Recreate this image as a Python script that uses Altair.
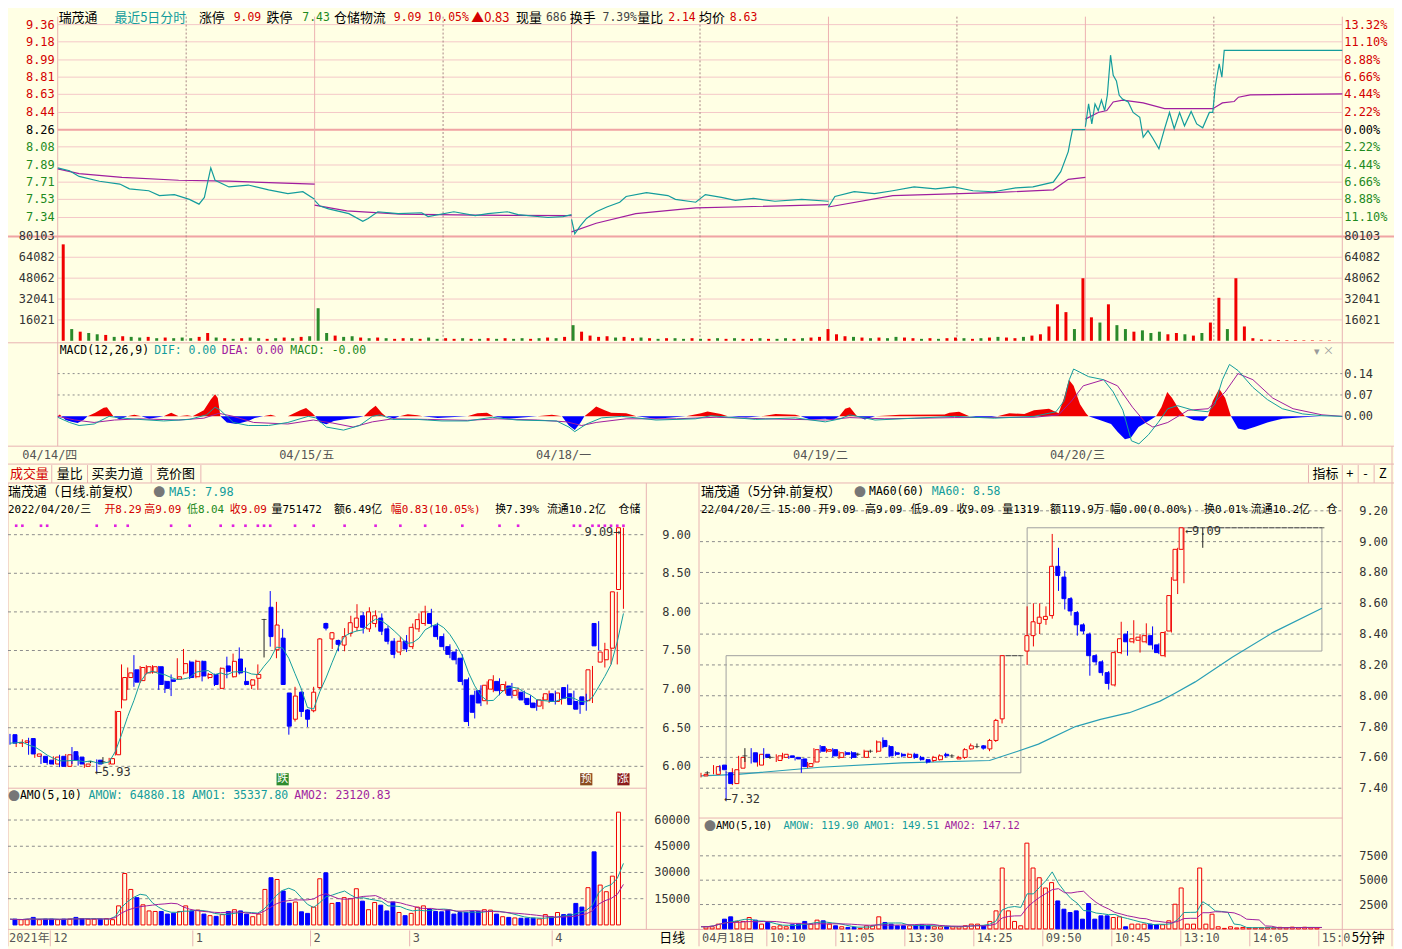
import altair as alt
import pandas as pd

# ============================ values ============================
prev_close = 8.26

# five-day minute chart: minute of the session (0-240) and price, one list per day
p_min = [
    [0, 11, 20, 39, 58, 67, 85, 95, 109, 123, 132, 137, 143, 147, 160, 178, 197, 215, 229, 240],
    [0, 5, 13, 32, 45, 50, 59, 78, 100, 106, 130, 150, 162, 180, 190, 218, 232, 240],
    [0, 3, 8, 14, 23, 33, 45, 51, 70, 90, 97, 116, 125, 140, 153, 170, 190, 215, 240],
    [0, 6, 24, 43, 60, 80, 100, 117, 135, 154, 175, 191, 210, 217, 224, 226, 228, 240],
    [0, 3, 6, 9, 12, 15, 18, 20.5, 23.5, 26, 29, 31.6, 34.7, 40, 44.6, 50.8, 54, 58.5, 63, 68.7,
     74, 78.6, 83, 88, 92.6, 98.8, 104, 109.6, 115.8, 119, 121.4, 125, 127.5, 129.7, 240],
]
p_val = [
    [7.86, 7.83, 7.77, 7.72, 7.69, 7.64, 7.62, 7.57, 7.58, 7.53, 7.48, 7.55, 7.86, 7.73, 7.66, 7.68, 7.63, 7.59, 7.61, 7.53],
    [7.52, 7.46, 7.43, 7.38, 7.30, 7.33, 7.40, 7.38, 7.39, 7.35, 7.40, 7.36, 7.38, 7.40, 7.37, 7.34, 7.35, 7.37],
    [7.32, 7.17, 7.25, 7.33, 7.40, 7.45, 7.50, 7.56, 7.60, 7.57, 7.53, 7.50, 7.58, 7.55, 7.52, 7.54, 7.51, 7.53, 7.51],
    [7.45, 7.56, 7.61, 7.59, 7.62, 7.66, 7.64, 7.66, 7.62, 7.61, 7.65, 7.66, 7.71, 7.82, 8.03, 8.15, 8.26, 8.26],
    [8.29, 8.53, 8.32, 8.53, 8.46, 8.57, 8.46, 8.62, 9.04, 8.83, 8.77, 8.62, 8.58, 8.55, 8.44, 8.39, 8.18, 8.25, 8.17, 8.06,
     8.27, 8.44, 8.27, 8.44, 8.30, 8.45, 8.32, 8.28, 8.44, 8.44, 8.72, 8.95, 8.81, 9.09, 9.09],
]
# average-price line
a_min = [
    [0, 20, 60, 113, 160, 240],
    [0, 30, 80, 150, 240],
    [0, 23, 60, 116, 240],
    [0, 60, 154, 210, 224, 240],
    [0, 12, 20, 26, 35, 54, 74, 104, 119, 128, 139, 143, 154, 240],
]
a_val = [
    [7.85, 7.80, 7.76, 7.73, 7.72, 7.69],
    [7.47, 7.41, 7.375, 7.365, 7.36],
    [7.19, 7.28, 7.38, 7.44, 7.475],
    [7.45, 7.57, 7.60, 7.63, 7.74, 7.76],
    [8.37, 8.44, 8.46, 8.55, 8.57, 8.54, 8.48, 8.48, 8.48, 8.54, 8.555, 8.60, 8.625, 8.635],
]
# minute volume, sampled every 8 minutes (30 per day), with up(r)/down(g) flag
vol = [
    [74000, 9000, 7000, 6000, 5000, 4500, 3000, 3500, 3000, 2500, 3000, 2000, 2500, 2000, 2500,
     2000, 3000, 6000, 2500, 2000, 1500, 2000, 2500, 2000, 1500, 2000, 2500, 2000, 3000, 3500],
    [25000, 6000, 4000, 3000, 3500, 2500, 2000, 2500, 2000, 1500, 2000, 2000, 1500, 2500, 1500,
     2000, 1500, 2000, 1500, 1500, 2000, 1500, 2000, 1500, 2000, 1500, 2000, 2500, 2000, 3000],
    [12000, 7000, 4000, 3000, 3500, 2500, 3000, 2000, 2500, 2000, 1500, 2000, 2000, 1500, 2000,
     1500, 1500, 2000, 1500, 2000, 1500, 1500, 2000, 1500, 1500, 2000, 1500, 2000, 2500, 3000],
    [9000, 5000, 3500, 3000, 2500, 2000, 2500, 2000, 3000, 2500, 2000, 1500, 2000, 1500, 2000,
     2500, 2000, 1500, 2000, 2500, 3000, 2500, 2000, 3000, 4000, 5000, 11000, 28000, 22000, 9000],
    [48000, 18000, 14000, 28000, 12000, 9000, 7000, 8000, 6000, 7000, 5000, 6000, 5000, 4000, 6000,
     14000, 33000, 9000, 48000, 11000, 2000, 1000, 800, 600, 500, 500, 400, 400, 300, 300],
]
vol_dir = [
    "rgrggrgrgg" "rgrgggrrgr" "grggrgrgrg",
    "ggrggrgrgr" "rgrggrrgrg" "rgrggrgrgr",
    "grrrrgrrgr" "grggrgrgrg" "rrgrggrgrr",
    "rrrgrgrggr" "rgrgrrgrgr" "grrgrrrrrg",
    "rrgrggrggg" "rrgrgrrgrr" "rrrrrrrrrr",
]
# MACD over the 1200 minutes: (minute, value)
macd_hist = [
    (0, 0), (1.9, 0.006), (3.7, 0), (7.4, -0.012), (13, -0.018), (18.6, -0.022), (24, -0.012), (28, 0),
    (35, 0.012), (43, 0.028), (46, 0.03), (50, 0.01), (52, 0), (58, -0.01), (65, 0), (71.5, 0.005), (78, 0),
    (85.5, -0.008), (99, 0), (106, 0.012), (113, 0), (121, 0.004), (126, 0), (136.5, 0.02), (143, 0.055),
    (147, 0.072), (149.5, 0.06), (152, 0), (158, -0.02), (167, -0.025), (178, -0.015), (184, -0.005), (192, 0),
    (199, 0.005), (204, 0), (215, 0), (226.6, 0.02), (232, 0.027), (238, 0.01), (240.6, 0), (245, -0.02),
    (251, -0.026), (258, -0.015), (266.6, -0.01), (280.5, -0.004), (286, 0), (291.6, 0.02), (297, 0.035),
    (303, 0.01), (306.5, 0), (314, -0.007), (319.5, 0), (327, 0.007), (336, 0.004), (341, 0), (355, -0.005),
    (382.7, 0), (392, 0.01), (401, 0.012), (407, 0), (420, -0.008), (448, 0), (461.6, 0.005), (471, 0),
    (477.5, -0.03), (483, -0.045), (488.5, -0.02), (492, 0), (499, 0.02), (503, 0.032), (511, 0.02), (517, 0.012),
    (531, 0.01), (540.6, 0), (559, -0.008), (587, 0), (601, 0.01), (607, 0.016), (619.5, 0.008), (626, 0),
    (643, -0.004), (657, 0), (670.6, 0.008), (689, 0.005), (694, 0), (703, -0.01), (717, -0.008), (724.5, -0.012),
    (730, 0), (735.6, 0.025), (740, 0.03), (746.7, 0), (754, -0.01), (763.5, 0), (786.7, 0.005), (828.5, 0.006),
    (833, 0.012), (842, 0.015), (851.7, 0), (865.6, -0.005), (877.7, 0), (889, 0.01), (903, 0.008), (912, 0.02),
    (926, 0.025), (935, 0.01), (940, 0.06), (944.6, 0.12), (949, 0.1), (955, 0.04), (960.5, 0.01), (963, 0),
    (972, -0.01), (984, -0.025), (990, -0.05), (997, -0.075), (1002.5, -0.07), (1009.6, -0.035), (1019, -0.015),
    (1026, 0), (1031, 0.03), (1036.5, 0.08), (1041, 0.06), (1048, 0.02), (1053, 0), (1061, -0.012), (1070, -0.015),
    (1074.6, 0), (1079, 0.05), (1085, 0.09), (1090.6, 0.06), (1096, 0), (1102.6, -0.04), (1109, -0.045),
    (1118, -0.035), (1130, -0.02), (1144, -0.008), (1163, -0.003), (1181, 0), (1200, 0),
]
macd_dif = [
    (0, -0.003), (11, -0.02), (20, -0.03), (34, -0.025), (48, 0.0), (58, -0.005), (76, -0.01), (99, -0.015),
    (123, -0.01), (139, 0.005), (147, 0.03), (152, 0.02), (164, -0.02), (178, -0.03), (197, -0.03), (215, -0.02),
    (234, 0.0), (241, -0.005), (251, -0.035), (267, -0.045), (282, -0.03), (294, 0.0), (301, 0.005), (313, -0.01),
    (336, -0.01), (359, -0.015), (383, -0.015), (406, -0.003), (429, -0.012), (466, -0.015), (477.5, -0.035),
    (483, -0.05), (494, -0.025), (508, -0.005), (527, 0.0), (559, -0.012), (596, -0.008), (610, 0.002),
    (652, -0.01), (689, -0.005), (717, -0.018), (731, -0.008), (740, 0.005), (763.5, -0.012), (800.6, -0.006),
    (838, 0.0), (875, -0.006), (912, 0.0), (932.5, 0.015), (940, 0.05), (945, 0.12), (949, 0.155), (963, 0.13),
    (977, 0.12), (986, 0.08), (995, 0.02), (1003, -0.08), (1010, -0.09), (1019, -0.06), (1028, -0.02),
    (1037, 0.025), (1046, 0.035), (1061, 0.02), (1074.6, 0.015), (1081, 0.04), (1088, 0.12), (1094.6, 0.17),
    (1102.6, 0.15), (1116.5, 0.095), (1130, 0.055), (1144, 0.025), (1163, 0.008), (1181, 0.002), (1200, 0.0),
]
macd_dea = [
    (0, 0.0), (16, -0.012), (34, -0.02), (53, -0.012), (76, -0.008), (113, -0.012), (136.5, -0.006),
    (150.5, 0.01), (164, 0.0), (183, -0.02), (215, -0.025), (238.7, -0.012), (257, -0.022), (276, -0.035),
    (294, -0.018), (313, -0.008), (345.5, -0.01), (382.7, -0.013), (410.5, -0.008), (448, -0.012),
    (475.5, -0.018), (489.5, -0.03), (503, -0.02), (531, -0.008), (578, -0.008), (615, -0.003), (661, -0.008),
    (717, -0.012), (740, -0.004), (772.7, -0.008), (838, -0.004), (912, -0.003), (935, 0.005), (947, 0.05),
    (958, 0.1), (977, 0.12), (990, 0.1), (1004, 0.03), (1016, -0.02), (1023, -0.035), (1037, -0.02),
    (1056, 0.02), (1074.6, 0.025), (1090.6, 0.08), (1102.6, 0.14), (1116.5, 0.12), (1135, 0.06),
    (1154, 0.025), (1181, 0.005), (1200, 0.0),
]
price_ticks = [9.36, 9.18, 8.99, 8.81, 8.63, 8.44, 8.26, 8.08, 7.89, 7.71, 7.53, 7.34]
price_lbl = ["9.36", "9.18", "8.99", "8.81", "8.63", "8.44", "8.26", "8.08", "7.89", "7.71", "7.53", "7.34"]
pct_lbl = ["13.32%", "11.10%", "8.88%", "6.66%", "4.44%", "2.22%", "0.00%", "2.22%", "4.44%", "6.66%", "8.88%", "11.10%"]
vol_ticks = [80103, 64082, 48062, 32041, 16021]
macd_ticks = [0.14, 0.07, 0.00]
macd_lbl = ["0.14", "0.07", "0.00"]
day_lbl = ["04/14/四", "04/15/五", "04/18/一", "04/19/二", "04/20/三"]

# daily candles (2021-11 .. 2022-04-20), 100 sessions
d_open = [6.41, 6.30, 6.31, 6.36, 6.13, 6.13, 6.08, 6.03, 6.13, 6.00, 6.19, 6.12, 6.00, 6.06, 6.08, 6.06, 6.03, 6.15, 6.86, 7.15,
          7.25, 7.11, 7.21, 7.22, 7.29, 7.10, 7.12, 7.13, 7.21, 7.35, 7.16, 7.36, 7.15, 7.19, 7.01, 7.30, 7.16, 7.39, 7.10, 7.05,
          7.14, 7.90, 8.06, 7.51, 7.66, 6.95, 6.61, 6.96, 6.73, 6.72, 7.02, 7.85, 7.65, 7.63, 7.57, 7.72, 7.80, 7.95, 7.78, 7.85,
          7.92, 7.78, 7.62, 7.48, 7.62, 7.55, 7.78, 7.85, 7.98, 7.82, 7.68, 7.55, 7.48, 7.40, 7.12, 6.92, 6.98, 6.85, 7.00, 7.10,
          6.98, 7.04, 6.92, 6.96, 6.88, 6.82, 6.78, 6.86, 6.94, 6.84, 7.02, 6.94, 6.84, 6.90, 6.85, 7.85, 7.35, 7.38, 7.53, 8.29]
d_high = [6.42, 6.35, 6.35, 6.37, 6.17, 6.14, 6.09, 6.13, 6.15, 6.16, 6.25, 6.14, 6.04, 6.07, 6.09, 6.12, 6.11, 6.72, 7.32, 7.28,
          7.44, 7.30, 7.31, 7.31, 7.30, 7.11, 7.19, 7.40, 7.52, 7.37, 7.38, 7.37, 7.21, 7.20, 7.28, 7.42, 7.46, 7.54, 7.28, 7.13,
          7.32, 7.91, 8.27, 8.13, 7.78, 6.95, 7.03, 6.97, 6.74, 7.03, 7.66, 7.86, 7.74, 7.64, 7.79, 7.95, 8.10, 8.00, 8.06, 8.02,
          7.98, 7.82, 7.66, 7.68, 7.70, 7.85, 7.98, 8.08, 8.04, 7.86, 7.72, 7.58, 7.52, 7.45, 7.15, 6.98, 7.05, 7.10, 7.18, 7.14,
          7.10, 7.08, 7.02, 6.98, 6.92, 6.86, 6.90, 6.98, 6.98, 7.00, 7.06, 6.98, 6.90, 6.94, 7.30, 7.88, 7.60, 7.56, 8.26, 9.09]
d_low = [6.28, 6.25, 6.25, 6.15, 6.11, 6.03, 6.02, 6.02, 5.99, 5.99, 6.03, 6.01, 5.98, 6.04, 5.93, 6.03, 6.02, 6.14, 6.75, 6.99,
         7.03, 7.08, 7.19, 7.20, 6.99, 6.95, 6.91, 7.12, 7.19, 7.13, 7.14, 7.10, 7.13, 7.04, 7.00, 7.14, 7.15, 7.19, 7.05, 7.00,
         6.99, 7.41, 7.55, 7.40, 7.06, 6.41, 6.58, 6.64, 6.51, 6.70, 7.00, 7.76, 7.52, 7.49, 7.49, 7.68, 7.75, 7.72, 7.74, 7.80,
         7.70, 7.58, 7.40, 7.44, 7.48, 7.52, 7.74, 7.82, 7.80, 7.64, 7.50, 7.40, 7.32, 7.05, 6.52, 6.62, 6.78, 6.80, 6.96, 6.92,
         6.94, 6.88, 6.88, 6.82, 6.76, 6.72, 6.74, 6.82, 6.80, 6.80, 6.84, 6.74, 6.68, 6.72, 6.82, 7.50, 7.28, 7.32, 7.32, 8.04]
d_close = [6.30, 6.31, 6.33, 6.16, 6.16, 6.05, 6.03, 6.12, 6.00, 6.15, 6.08, 6.03, 6.03, 6.06, 6.03, 6.06, 6.10, 6.71, 7.15, 7.21,
           7.09, 7.28, 7.29, 7.29, 7.06, 7.01, 7.10, 7.16, 7.33, 7.15, 7.36, 7.17, 7.19, 7.06, 7.27, 7.23, 7.36, 7.21, 7.06, 7.12,
           7.19, 7.90, 7.68, 7.83, 7.06, 6.52, 6.91, 6.71, 6.61, 6.96, 7.65, 7.79, 7.73, 7.58, 7.68, 7.86, 7.92, 7.80, 8.00, 7.95,
           7.75, 7.62, 7.45, 7.62, 7.52, 7.80, 7.90, 8.00, 7.85, 7.68, 7.55, 7.45, 7.38, 7.10, 6.58, 6.70, 6.82, 7.05, 7.12, 6.98,
           7.06, 6.92, 6.98, 6.86, 6.80, 6.76, 6.86, 6.94, 6.84, 6.95, 6.88, 6.80, 6.74, 6.80, 7.25, 7.56, 7.48, 7.51, 8.26, 9.09]
d_amo = [3300, 3000, 3000, 4300, 3000, 3300, 3300, 3000, 3300, 3300, 4300, 3600, 3300, 3300, 3300, 3600, 3000, 10900, 29400, 20300,
         15600, 11500, 8000, 7700, 7700, 6200, 6700, 7700, 10900, 8000, 8500, 6200, 5300, 4900, 5900, 7700, 8700, 8000, 6200, 4700,
         6200, 20300, 27000, 26000, 19400, 12400, 13100, 7500, 6600, 10200, 26400, 29800, 12300, 12800, 15600, 15000, 20700, 13600, 8700, 12800,
         11300, 8000, 13100, 7100, 5300, 6600, 10200, 10900, 9100, 7700, 7500, 8500, 6200, 7100, 7100, 7700, 7700, 8700, 8500, 6200,
         4700, 4300, 4000, 3800, 3800, 3800, 3400, 5900, 4700, 7100, 5900, 6200, 12300, 10200, 21300, 41800, 22800, 19000, 27900, 64500]
d_ticks = [9.0, 8.5, 8.0, 7.5, 7.0, 6.5, 6.0]
d_tick_lbl = ["9.00", "8.50", "8.00", "7.50", "7.00", "6.50", "6.00"]
d_amo_ticks = [60000, 45000, 30000, 15000]
month_idx = [6.5, 29.5, 48.5, 64.5, 87.5]
month_lbl = ["12", "1", "2", "3", "4"]
event_idx = [1, 2, 5, 6, 14, 17, 19, 26, 29, 34, 36, 38, 40, 41, 42, 46, 49, 54, 59, 63, 67, 73, 79, 82, 91, 92, 94, 95, 96, 97, 98, 99]
sig_idx = [44, 93, 99]
sig_txt = ["跌", "预", "涨"]

# 5-minute candles (04/18 14:45 .. 04/20 15:00), 100 bars
f_open = [7.48, 7.50, 7.49, 7.55, 7.50, 7.43, 7.53, 7.61, 7.63, 7.55, 7.62, 7.60, 7.58, 7.60, 7.61, 7.60, 7.59, 7.54, 7.57, 7.67,
          7.64, 7.65, 7.60, 7.63, 7.63, 7.62, 7.60, 7.64, 7.64, 7.71, 7.67, 7.63, 7.62, 7.60, 7.62, 7.60, 7.585, 7.58, 7.585, 7.62,
          7.61, 7.59, 7.60, 7.655, 7.67, 7.675, 7.655, 7.71, 7.85, 8.26, 8.26, 8.26, 8.29, 8.39, 8.47, 8.495, 8.52, 8.84, 8.77, 8.63,
          8.54, 8.46, 8.40, 8.26, 8.22, 8.15, 8.07, 8.28, 8.40, 8.35, 8.36, 8.35, 8.39, 8.33, 8.26, 8.42, 8.75, 8.95, 9.09, 9.09,
          9.09, 9.09, 9.09, 9.09, 9.09, 9.09, 9.09, 9.09, 9.09, 9.09, 9.09, 9.09, 9.09, 9.09, 9.09, 9.09, 9.09, 9.09, 9.09, 9.09]
f_high = [7.50, 7.51, 7.55, 7.55, 7.51, 7.53, 7.61, 7.66, 7.66, 7.63, 7.66, 7.61, 7.62, 7.63, 7.61, 7.60, 7.59, 7.57, 7.66, 7.68,
          7.66, 7.66, 7.64, 7.64, 7.64, 7.63, 7.65, 7.65, 7.71, 7.73, 7.68, 7.64, 7.63, 7.63, 7.63, 7.61, 7.59, 7.61, 7.62, 7.63,
          7.62, 7.61, 7.66, 7.69, 7.69, 7.68, 7.72, 7.85, 8.26, 8.26, 8.26, 8.26, 8.58, 8.60, 8.60, 8.58, 9.05, 8.96, 8.81, 8.64,
          8.55, 8.47, 8.41, 8.27, 8.23, 8.16, 8.29, 8.48, 8.42, 8.49, 8.40, 8.47, 8.45, 8.34, 8.42, 8.77, 8.96, 9.09, 9.09, 9.09,
          9.09, 9.09, 9.09, 9.09, 9.09, 9.09, 9.09, 9.09, 9.09, 9.09, 9.09, 9.09, 9.09, 9.09, 9.09, 9.09, 9.09, 9.09, 9.09, 9.09]
f_low = [7.47, 7.49, 7.49, 7.51, 7.32, 7.42, 7.51, 7.57, 7.56, 7.54, 7.59, 7.59, 7.57, 7.59, 7.59, 7.58, 7.50, 7.53, 7.56, 7.63,
         7.63, 7.60, 7.59, 7.61, 7.59, 7.61, 7.60, 7.63, 7.63, 7.66, 7.60, 7.61, 7.60, 7.60, 7.59, 7.58, 7.56, 7.57, 7.58, 7.60,
         7.60, 7.59, 7.59, 7.65, 7.66, 7.65, 7.64, 7.70, 7.82, 8.26, 8.26, 8.26, 8.20, 8.32, 8.40, 8.46, 8.50, 8.68, 8.56, 8.52,
         8.39, 8.40, 8.13, 8.20, 8.13, 8.04, 8.06, 8.27, 8.26, 8.34, 8.28, 8.34, 8.30, 8.27, 8.25, 8.41, 8.66, 8.73, 9.09, 9.09,
         8.96, 9.09, 9.09, 9.09, 9.09, 9.09, 9.09, 9.09, 9.09, 9.09, 9.09, 9.09, 9.09, 9.09, 9.09, 9.09, 9.09, 9.09, 9.09, 9.09]
f_close = [7.49, 7.50, 7.54, 7.52, 7.43, 7.52, 7.60, 7.61, 7.57, 7.62, 7.60, 7.60, 7.61, 7.62, 7.60, 7.59, 7.54, 7.56, 7.65, 7.64,
           7.65, 7.61, 7.63, 7.62, 7.60, 7.62, 7.64, 7.64, 7.70, 7.67, 7.61, 7.62, 7.61, 7.62, 7.60, 7.585, 7.57, 7.60, 7.61, 7.61,
           7.61, 7.60, 7.65, 7.675, 7.67, 7.66, 7.71, 7.84, 8.26, 8.26, 8.26, 8.26, 8.39, 8.48, 8.51, 8.515, 8.84, 8.78, 8.63, 8.55,
           8.46, 8.42, 8.26, 8.22, 8.15, 8.08, 8.28, 8.37, 8.35, 8.37, 8.38, 8.39, 8.33, 8.28, 8.41, 8.65, 8.95, 9.09, 9.09, 9.09,
           9.09, 9.09, 9.09, 9.09, 9.09, 9.09, 9.09, 9.09, 9.09, 9.09, 9.09, 9.09, 9.09, 9.09, 9.09, 9.09, 9.09, 9.09, 9.09, 9.09]
f_amo = [221, 221, 490, 1000, 1240, 765, 765, 1170, 900, 490, 660, 220, 320, 220, 425, 490, 765, 490, 900, 830,
         490, 320, 220, 150, 150, 50, 320, 320, 1240, 660, 490, 320, 320, 320, 320, 425, 320, 220, 220, 220,
         220, 220, 320, 490, 490, 320, 765, 1850, 6250, 1850, 765, 320, 8800, 6250, 5250, 4200, 4750, 2870, 2020, 1680,
         1850, 1000, 2600, 1000, 1340, 1340, 1170, 1240, 220, 490, 490, 490, 490, 425, 425, 830, 2530, 4200, 490, 490,
         6250, 490, 1510, 220, 50, 220, 100, 150, 100, 100, 120, 150, 110, 160, 130, 180, 140, 170, 140, 120]
ma60_i = [0, 5.8, 19, 32, 46, 50.5, 53.8, 59.7, 63.7, 68.3, 73.2, 75.5, 78.8, 84.7, 91.3, 99]
ma60_v = [7.48, 7.49, 7.536, 7.564, 7.58, 7.64, 7.686, 7.80, 7.847, 7.89, 7.965, 8.015, 8.09, 8.25, 8.413, 8.568]
box_i0 = [4, 52]
box_i1 = [51, 99]
box_lo = [7.50, 8.29]
box_hi = [8.26, 9.09]
f_ticks = [9.2, 9.0, 8.8, 8.6, 8.4, 8.2, 8.0, 7.8, 7.6, 7.4]
f_tick_lbl = ["9.20", "9.00", "8.80", "8.60", "8.40", "8.20", "8.00", "7.80", "7.60", "7.40"]
f_amo_ticks = [7500, 5000, 2500]
time_idx = [10.5, 21.5, 32.5, 43.5, 54.5, 65.5, 76.5, 87.5, 98.5]
time_lbl = ["10:10", "11:05", "13:30", "14:25", "09:50", "10:45", "13:10", "14:05", "15:0"]

# ============================ styling / layout ============================
OFF = 8
W, H = 1394, 941
BG = "#FFFFE4"
PINK = "#E8B2B2"
GRIDP = "#F4C8C8"
RED = "#F00000"
TRED = "#D40000"
BLUE = "#0000FF"
GREEN = "#1E8A1E"
TEAL = "#139C9C"
MAG = "#A01E9E"
DASH = "#8C8C8C"
CJK = "Noto Sans CJK SC"
MONO = "DejaVu Sans Mono"
MIX = "DejaVu Sans Mono, Noto Sans CJK SC"


def P(v):
    return max(v - OFF, 0)


def S(dom, rng):
    return alt.Scale(domain=dom, range=rng, nice=False, zero=False)


def qx(f, s):
    return alt.X(f, type="quantitative", scale=s, axis=None)


def qy(f, s):
    return alt.Y(f, type="quantitative", scale=s, axis=None)


TX = S([0, 1200], [P(58), P(1350)])
PY = S([7.34, 9.36], [P(216), P(22)])
VY = S([0, 80103], [P(340), P(235)])
MY = S([0, 0.14], [P(416), P(373)])
DX = S([0, 99], [2, 619])
DY = S([6.0, 9.0], [P(768), P(535)])
DA = S([0, 60000], [P(927.5), P(822)])
FX = S([0, 99], [P(705), P(1329.5)])
FY = S([7.4, 9.2], [P(790), P(511)])
FA = S([0, 7500], [P(931.5), P(858)])

ONE = pd.DataFrame({"k": [0]})
L = []


def rule(x1, y1, x2, y2, color=PINK, w=1, dash=None):
    kw = {"color": color, "strokeWidth": w}
    if dash:
        kw["strokeDash"] = dash
    return alt.Chart(ONE).mark_rule(**kw).encode(
        x=alt.value(P(x1)), y=alt.value(P(y1)), x2=alt.value(P(x2)), y2=alt.value(P(y2)))


def label(s, x, y, color="#000000", size=13, font=CJK, align="left"):
    return alt.Chart(ONE).mark_text(text=s, align=align, baseline="middle", fontSize=size,
                                    font=font, color=color).encode(x=alt.value(P(x)), y=alt.value(P(y)))


def is_ascii(s):
    return all(ord(ch) < 128 for ch in s)


# ---------------- data frames ----------------
rows = []
for d in range(5):
    for m, v in zip(p_min[d], p_val[d]):
        rows.append({"day": d, "t": d * 240 + m, "p": v})
price_df = pd.DataFrame(rows)
rows = []
for d in range(5):
    for m, v in zip(a_min[d], a_val[d]):
        rows.append({"day": d, "t": d * 240 + m, "p": v})
avg_df = pd.DataFrame(rows)
rows = []
for d in range(5):
    for k, v in enumerate(vol[d]):
        rows.append({"t": d * 240 + 8 * k + 0.5, "v": v, "up": vol_dir[d][k] == "r", "z": 0})
vol_df = pd.DataFrame(rows)
hist_df = pd.DataFrame({"t": [a for a, b in macd_hist], "v": [b for a, b in macd_hist], "z": 0.0})
dif_df = pd.DataFrame({"t": [a for a, b in macd_dif], "v": [b for a, b in macd_dif]})
dea_df = pd.DataFrame({"t": [a for a, b in macd_dea], "v": [b for a, b in macd_dea]})
pt_df = pd.DataFrame({"v": price_ticks, "s": price_lbl, "q": pct_lbl})
daily = pd.DataFrame({"i": list(range(100)), "o": d_open, "h": d_high, "l": d_low, "c": d_close,
                      "amo": d_amo, "z": 0})
five = pd.DataFrame({"i": list(range(100)), "o": f_open, "h": f_high, "l": f_low, "c": f_close,
                     "amo": f_amo, "z": 0})

# ---------------- frames ----------------
L += [
    rule(58, 14, 58, 446), rule(1350, 14, 1350, 446),
    rule(0, 342, 1402, 342), rule(0, 446, 1402, 446), rule(0, 464, 1402, 464), rule(0, 483, 1402, 483),
    rule(52, 465, 52, 483), rule(88, 465, 88, 483), rule(152, 465, 152, 483), rule(202, 465, 202, 483),
    rule(1316, 465, 1316, 483), rule(1350, 465, 1350, 483), rule(1366, 465, 1366, 483), rule(1382, 465, 1382, 483),
    rule(2, 483, 2, 949), rule(650, 483, 650, 932), rule(703, 483, 703, 949), rule(1350, 483, 1350, 949),
    rule(1400, 446, 1400, 949), rule(2, 790, 650, 790), rule(703, 820, 1350, 820), rule(2, 932, 1402, 932),
]

# ---------------- top: grids ----------------
L.append(alt.Chart(pt_df).mark_rule(color=GRIDP, strokeWidth=1).encode(
    x=alt.value(P(58)), x2=alt.value(P(1350)), y=qy("v", PY)))
L.append(alt.Chart(pd.DataFrame({"v": [prev_close]})).mark_rule(color="#F0A4A4", strokeWidth=2).encode(
    x=alt.value(P(58)), x2=alt.value(P(1350)), y=qy("v", PY)))
L.append(alt.Chart(pd.DataFrame({"v": vol_ticks})).mark_rule(color=GRIDP, strokeWidth=1).encode(
    x=alt.value(P(58)), x2=alt.value(P(1350)), y=qy("v", VY)))
L.append(alt.Chart(pd.DataFrame({"v": [vol_ticks[0]]})).mark_rule(color="#F0A4A4", strokeWidth=2).encode(
    x=alt.value(P(0)), x2=alt.value(P(1402)), y=qy("v", VY)))
L.append(alt.Chart(pd.DataFrame({"t": [240, 480, 720, 960]})).mark_rule(color="#EDB0B0", strokeWidth=1).encode(
    x=qx("t", TX), y=alt.value(P(14)), y2=alt.value(P(340))))
L.append(alt.Chart(pd.DataFrame({"t": [120, 360, 600, 840, 1080]})).mark_rule(
    color="#A88484", strokeWidth=1, strokeDash=[2, 2]).encode(
    x=qx("t", TX), y=alt.value(P(14)), y2=alt.value(P(340))))
L.append(alt.Chart(pd.DataFrame({"v": macd_ticks[:2]})).mark_rule(
    color=DASH, strokeWidth=1, strokeDash=[2, 3]).encode(
    x=alt.value(P(58)), x2=alt.value(P(1350)), y=qy("v", MY)))

col_expr = ("datum.v > %.3f ? '%s' : (datum.v < %.3f ? '%s' : '#000000')"
            % (prev_close + 0.005, TRED, prev_close - 0.005, GREEN))
L.append(alt.Chart(pt_df).transform_calculate(col=col_expr).mark_text(
    align="right", baseline="middle", font=MONO, fontSize=12).encode(
    x=alt.value(P(55)), y=qy("v", PY), text="s:N", color=alt.Color("col:N", scale=None)))
L.append(alt.Chart(pt_df).transform_calculate(col=col_expr).mark_text(
    align="left", baseline="middle", font=MONO, fontSize=12).encode(
    x=alt.value(P(1352)), y=qy("v", PY), text="q:N", color=alt.Color("col:N", scale=None)))
vt_df = pd.DataFrame({"v": vol_ticks, "s": [str(v) for v in vol_ticks]})
L.append(alt.Chart(vt_df).mark_text(align="right", baseline="middle", font=MONO, fontSize=12, color="#333333").encode(
    x=alt.value(P(55)), y=qy("v", VY), text="s:N"))
L.append(alt.Chart(vt_df).mark_text(align="left", baseline="middle", font=MONO, fontSize=12, color="#333333").encode(
    x=alt.value(P(1352)), y=qy("v", VY), text="s:N"))
L.append(alt.Chart(pd.DataFrame({"v": macd_ticks, "s": macd_lbl})).mark_text(
    align="left", baseline="middle", font=MONO, fontSize=12, color="#333333").encode(
    x=alt.value(P(1352)), y=qy("v", MY), text="s:N"))
L.append(alt.Chart(pd.DataFrame({"t": [0, 240, 480, 720, 960], "s": day_lbl})).mark_text(
    align="center", baseline="middle", font=MIX, fontSize=12, color="#555555", dx=-8).encode(
    x=qx("t", TX), y=alt.value(P(455)), text="s:N"))

# ---------------- top: series ----------------
L.append(alt.Chart(avg_df).mark_line(color=MAG, strokeWidth=1.2).encode(
    x=qx("t", TX), y=qy("p", PY), detail="day:N"))
L.append(alt.Chart(price_df).mark_line(color=TEAL, strokeWidth=1.2).encode(
    x=qx("t", TX), y=qy("p", PY), detail="day:N"))
L.append(alt.Chart(vol_df).transform_filter("datum.up").mark_bar(size=3, color=RED).encode(
    x=qx("t", TX), y=qy("v", VY), y2="z"))
L.append(alt.Chart(vol_df).transform_filter("!datum.up").mark_bar(size=3, color="#2A8A2A").encode(
    x=qx("t", TX), y=qy("v", VY), y2="z"))
L.append(alt.Chart(hist_df).transform_calculate(p="max(datum.v, 0)").mark_area(color=RED, opacity=1).encode(
    x=qx("t", TX), y=qy("p", MY), y2="z"))
L.append(alt.Chart(hist_df).transform_calculate(n="min(datum.v, 0)").mark_area(color=BLUE, opacity=1).encode(
    x=qx("t", TX), y=qy("n", MY), y2="z"))
L.append(alt.Chart(dea_df).mark_line(color=MAG, strokeWidth=1).encode(x=qx("t", TX), y=qy("v", MY)))
L.append(alt.Chart(dif_df).mark_line(color=TEAL, strokeWidth=1).encode(x=qx("t", TX), y=qy("v", MY)))

# ---------------- top: texts ----------------
for s, x, c in [("瑞茂通", 59, "#000000"), ("最近5日分时", 115, TEAL), ("涨停", 200, "#000000"),
                ("9.09", 235, TRED), ("跌停", 268, "#000000"), ("7.43", 304, GREEN), ("仓储物流", 336, "#000000"),
                ("9.09", 396, TRED), ("10.05%", 430, TRED), ("▲0.83", 474, TRED), ("现量", 519, "#000000"),
                ("686", 549, "#444444"), ("换手", 573, "#000000"), ("7.39%", 606, "#444444"), ("量比", 641, "#000000"),
                ("2.14", 672, TRED), ("均价", 703, "#000000"), ("8.63", 734, TRED)]:
    if is_ascii(s):
        L.append(label(s, x, 15, c, 11.5, MONO))
    else:
        L.append(label(s, x, 15, c, 13, CJK))
for s, x, c in [("MACD(12,26,9)", 60, "#000000"), ("DIF: 0.00", 155, TEAL), ("DEA: 0.00", 223, MAG),
                ("MACD: -0.00", 292, GREEN)]:
    L.append(label(s, x, 350, c, 11.5, MONO))
L.append(label("▾  ×", 1322, 351, "#9A9A9A", 11))
for s, x, c in [("成交量", 10, TRED), ("量比", 57, "#000000"), ("买卖力道", 92, "#000000"), ("竞价图", 157, "#000000"),
                ("指标", 1320, "#000000"), ("+", 1354, "#000000"), ("-", 1371, "#000000"), ("Z", 1387, "#000000")]:
    L.append(label(s, x, 474, c, 13))

# ---------------- bottom-left: daily candles ----------------
L.append(alt.Chart(pd.DataFrame({"v": d_ticks})).mark_rule(color=DASH, strokeWidth=1, strokeDash=[3, 3]).encode(
    x=alt.value(P(4)), x2=alt.value(P(650)), y=qy("v", DY)))
L.append(alt.Chart(pd.DataFrame({"v": d_ticks, "s": d_tick_lbl})).mark_text(
    align="left", baseline="middle", font=MONO, fontSize=12, color="#333333").encode(
    x=alt.value(P(666)), y=qy("v", DY), text="s:N"))
L.append(alt.Chart(pd.DataFrame({"v": d_amo_ticks})).mark_rule(color=DASH, strokeWidth=1, strokeDash=[3, 3]).encode(
    x=alt.value(P(4)), x2=alt.value(P(650)), y=qy("v", DA)))
L.append(alt.Chart(pd.DataFrame({"v": d_amo_ticks, "s": [str(v) for v in d_amo_ticks]})).mark_text(
    align="left", baseline="middle", font=MONO, fontSize=12, color="#333333").encode(
    x=alt.value(P(658)), y=qy("v", DA), text="s:N"))


def candles(df, xs, ys, w):
    out = []
    base = alt.Chart(df)
    up = base.transform_filter("datum.c > datum.o")
    dn = base.transform_filter("datum.c < datum.o")
    eq = base.transform_filter("datum.c == datum.o")
    out.append(up.mark_rule(color=RED, strokeWidth=1).encode(x=qx("i", xs), y=qy("l", ys), y2="h"))
    out.append(up.mark_bar(size=w, fill=BG, stroke=RED, strokeWidth=1).encode(x=qx("i", xs), y=qy("o", ys), y2="c"))
    out.append(dn.mark_rule(color=BLUE, strokeWidth=1).encode(x=qx("i", xs), y=qy("l", ys), y2="h"))
    out.append(dn.mark_bar(size=w, fill=BLUE, stroke=BLUE, strokeWidth=1).encode(x=qx("i", xs), y=qy("o", ys), y2="c"))
    out.append(eq.mark_rule(color="#222222", strokeWidth=1).encode(x=qx("i", xs), y=qy("l", ys), y2="h"))
    out.append(eq.mark_tick(orient="horizontal", size=w + 1, thickness=1, color="#222222").encode(
        x=qx("i", xs), y=qy("c", ys)))
    return out


def amo_bars(df, xs, ys, w):
    base = alt.Chart(df)
    return [
        base.transform_filter("datum.c >= datum.o").mark_bar(size=w, fill=BG, stroke=RED, strokeWidth=1).encode(
            x=qx("i", xs), y=qy("amo", ys), y2="z"),
        base.transform_filter("datum.c < datum.o").mark_bar(size=w, fill=BLUE, stroke=BLUE, strokeWidth=1).encode(
            x=qx("i", xs), y=qy("amo", ys), y2="z"),
        base.transform_window(a1="mean(amo)", frame=[-4, 0], sort=[alt.SortField("i")]).mark_line(
            color=TEAL, strokeWidth=1).encode(x=qx("i", xs), y=qy("a1", ys)),
        base.transform_window(a2="mean(amo)", frame=[-9, 0], sort=[alt.SortField("i")]).mark_line(
            color=MAG, strokeWidth=1).encode(x=qx("i", xs), y=qy("a2", ys)),
    ]


L += candles(daily, DX, DY, 4)
L.append(alt.Chart(daily).transform_window(ma5="mean(c)", frame=[-4, 0], sort=[alt.SortField("i")]).mark_line(
    color=TEAL, strokeWidth=1).encode(x=qx("i", DX), y=qy("ma5", DY)))
L += amo_bars(daily, DX, DA, 4)
L.append(alt.Chart(pd.DataFrame({"i": event_idx})).mark_square(size=7, color="#E020E0", opacity=1).encode(
    x=qx("i", DX), y=alt.value(P(526))))
sig_df = pd.DataFrame({"i": sig_idx, "s": sig_txt})
sig_col = "datum.s == '跌' ? '#2E8B2E' : (datum.s == '预' ? '#8B4A1E' : '#8B1A1A')"
L.append(alt.Chart(sig_df).transform_calculate(col=sig_col).mark_square(size=150, opacity=1).encode(
    x=qx("i", DX), y=alt.value(P(781)), color=alt.Color("col:N", scale=None)))
L.append(alt.Chart(sig_df).mark_text(font=CJK, fontSize=11, color="#FFFFFF", baseline="middle").encode(
    x=qx("i", DX), y=alt.value(P(781)), text="s:N"))
L.append(alt.Chart(pd.DataFrame({"i": [14], "v": [5.93], "s": ["←5.93"]})).mark_text(
    align="left", baseline="middle", font=MONO, fontSize=12, color="#333333", dx=-2).encode(
    x=qx("i", DX), y=qy("v", DY), text="s:N"))
L.append(alt.Chart(pd.DataFrame({"i": [99], "v": [9.09], "s": ["9.09→"]})).mark_text(
    align="right", baseline="middle", font=MONO, fontSize=12, color="#333333", dx=-3, dy=4).encode(
    x=qx("i", DX), y=qy("v", DY), text="s:N"))
L.append(alt.Chart(pd.DataFrame({"i": month_idx})).mark_rule(color=PINK, strokeWidth=1).encode(
    x=qx("i", DX), y=alt.value(P(933)), y2=alt.value(P(949))))
L.append(alt.Chart(pd.DataFrame({"i": month_idx, "s": month_lbl})).mark_text(
    align="left", baseline="middle", font=MONO, fontSize=12, color="#555555", dx=3).encode(
    x=qx("i", DX), y=alt.value(P(941)), text="s:N"))
L.append(label("2021年", 9, 941, "#555555", 12, MIX))
L.append(label("日线", 676, 941, "#000000", 13, align="center"))
L.append(label("瑞茂通（日线.前复权）", 6, 492, "#000000", 13))
L.append(label("●", 154, 492, "#777777", 12))
L.append(label("MA5: 7.98", 170, 492, TEAL, 12, MONO))
for s, x, c in [("2022/04/20/三", 6, "#000000"), ("开8.29", 105, TRED), ("高9.09", 145, TRED), ("低8.04", 188, GREEN),
                ("收9.09", 231, TRED), ("量751472", 273, "#000000"), ("额6.49亿", 336, "#000000"),
                ("幅0.83(10.05%)", 393, TRED), ("换7.39%", 498, "#000000"), ("流通10.2亿", 550, "#000000"),
                ("仓储", 622, "#000000")]:
    L.append(label(s, x, 510, c, 11, MIX))
L.append(label("●", 8, 798, "#777777", 12))
for s, x, c in [("AMO(5,10)", 20, "#000000"), ("AMOW: 64880.18", 89, TEAL),
                ("AMO1: 35337.80", 193, TEAL), ("AMO2: 23120.83", 296, MAG)]:
    L.append(label(s, x, 798, c, 11.5, MONO))

# ---------------- bottom-right: 5-minute candles ----------------
L.append(alt.Chart(pd.DataFrame({"v": f_ticks})).mark_rule(color=DASH, strokeWidth=1, strokeDash=[3, 3]).encode(
    x=alt.value(P(704)), x2=alt.value(P(1350)), y=qy("v", FY)))
L.append(alt.Chart(pd.DataFrame({"v": f_ticks, "s": f_tick_lbl})).mark_text(
    align="left", baseline="middle", font=MONO, fontSize=12, color="#333333").encode(
    x=alt.value(P(1367)), y=qy("v", FY), text="s:N"))
L.append(alt.Chart(pd.DataFrame({"v": f_amo_ticks})).mark_rule(color=DASH, strokeWidth=1, strokeDash=[3, 3]).encode(
    x=alt.value(P(704)), x2=alt.value(P(1350)), y=qy("v", FA)))
L.append(alt.Chart(pd.DataFrame({"v": f_amo_ticks, "s": [str(v) for v in f_amo_ticks]})).mark_text(
    align="left", baseline="middle", font=MONO, fontSize=12, color="#333333").encode(
    x=alt.value(P(1367)), y=qy("v", FA), text="s:N"))
L.append(alt.Chart(pd.DataFrame({"i0": box_i0, "i1": box_i1, "lo": box_lo, "hi": box_hi})).mark_rect(
    fillOpacity=0, stroke="#A0A0A0", strokeWidth=1).encode(
    x=qx("i0", FX), x2="i1", y=qy("lo", FY), y2="hi"))
L.append(alt.Chart(pd.DataFrame({"i": ma60_i, "v": ma60_v})).mark_line(color="#2A9FB5", strokeWidth=1.2).encode(
    x=qx("i", FX), y=qy("v", FY)))
L += candles(five, FX, FY, 4)
L += amo_bars(five, FX, FA, 4)
L.append(alt.Chart(pd.DataFrame({"i": [4], "v": [7.32], "s": ["←7.32"]})).mark_text(
    align="left", baseline="middle", font=MONO, fontSize=12, color="#333333", dx=-2, dy=-2).encode(
    x=qx("i", FX), y=qy("v", FY), text="s:N"))
L.append(alt.Chart(pd.DataFrame({"i": [77], "v": [9.09], "s": ["←9.09"]})).mark_text(
    align="left", baseline="middle", font=MONO, fontSize=12, color="#333333", dx=1, dy=3).encode(
    x=qx("i", FX), y=qy("v", FY), text="s:N"))
L.append(alt.Chart(pd.DataFrame({"i": time_idx})).mark_rule(color=PINK, strokeWidth=1).encode(
    x=qx("i", FX), y=alt.value(P(933)), y2=alt.value(P(949))))
L.append(alt.Chart(pd.DataFrame({"i": time_idx, "s": time_lbl})).mark_text(
    align="left", baseline="middle", font=MONO, fontSize=12, color="#555555", dx=3).encode(
    x=qx("i", FX), y=alt.value(P(941)), text="s:N"))
L.append(label("04月18日", 706, 941, "#555555", 12, MIX))
L.append(label("5分钟", 1376, 941, "#000000", 13, align="center"))
L.append(label("瑞茂通（5分钟.前复权）", 705, 492, "#000000", 13))
L.append(label("●", 859, 492, "#777777", 12))
L.append(label("MA60(60)", 874, 492, "#000000", 11.5, MONO))
L.append(label("MA60: 8.58", 937, 492, TEAL, 11.5, MONO))
for s, x in [("22/04/20/三 15:00", 705), ("开9.09", 823), ("高9.09", 870), ("低9.09", 916), ("收9.09", 962),
             ("量1319", 1008), ("额119.9万", 1056), ("幅0.00(0.00%)", 1116), ("换0.01%", 1211),
             ("流通10.2亿", 1258), ("仓", 1334)]:
    L.append(label(s, x, 510, "#000000", 11, MIX))
L.append(label("●", 708, 828, "#777777", 12))
for s, x, c in [("AMO(5,10)", 720, "#000000"), ("AMOW: 119.90", 788, TEAL),
                ("AMO1: 149.51", 869, TEAL), ("AMO2: 147.12", 950, MAG)]:
    L.append(label(s, x, 828, c, 10.5, MONO))

chart = alt.layer(*L).resolve_scale(x="independent", y="independent").properties(
    width=W, height=H, background=BG, padding=0, autosize=alt.AutoSizeParams(type="none")
).configure_view(stroke=None)

chart.save("out.html", embed_options={"renderer": "svg", "actions": False})
